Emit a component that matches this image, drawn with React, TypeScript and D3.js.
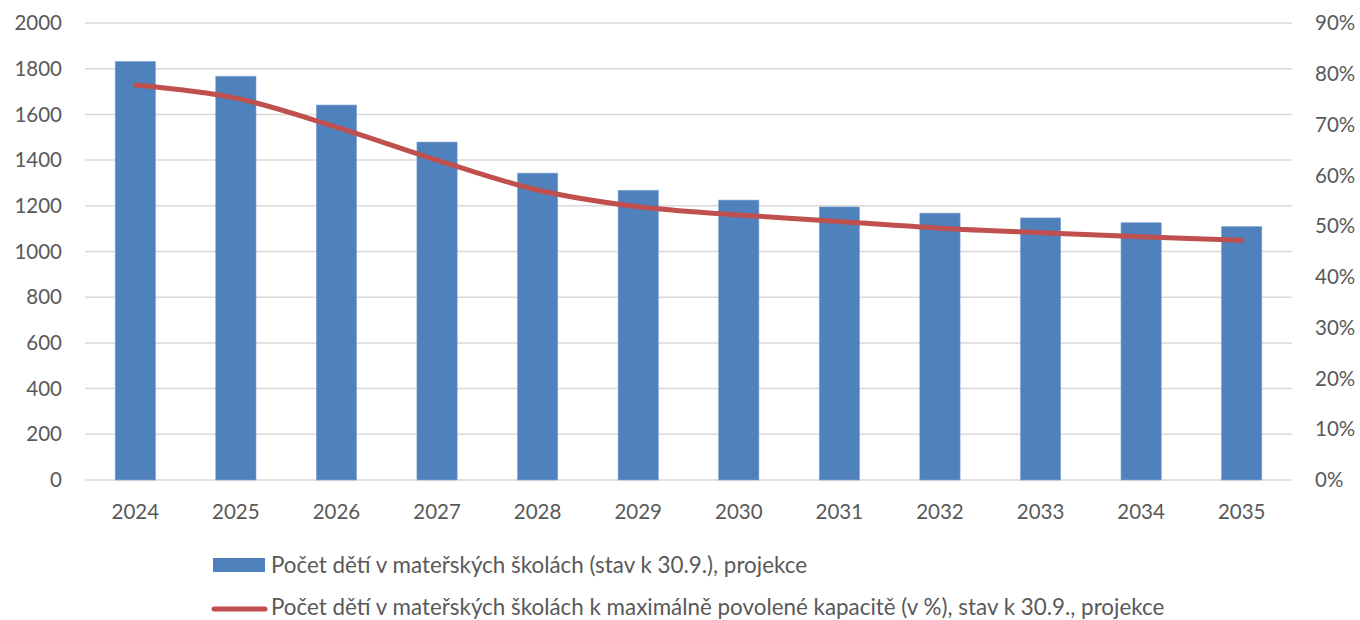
import React from "react";
import * as d3 from "d3";

const years = ["2024","2025","2026","2027","2028","2029","2030","2031","2032","2033","2034","2035"];
const children = [1832,1767,1641,1479,1343,1268,1225,1195,1168,1147,1126,1109];
const capacityPct = [77.8,75.2,69.5,63.0,57.1,53.8,52.2,50.9,49.6,48.7,47.9,47.2];
const leftTicks = [0,200,400,600,800,1000,1200,1400,1600,1800,2000];
const rightTicks = [0,10,20,30,40,50,60,70,80,90];
const legendBar = "Počet dětí v mateřských školách (stav k 30.9.), projekce";
const legendLine = "Počet dětí v mateřských školách k maximálně povolené kapacitě (v %), stav k 30.9., projekce";

const W = 1360, H = 620;
const left = 85, right = 1292, top = 23, bottom = 480;
const font = "Lato, 'Open Sans', sans-serif";
const textColor = "#595959";
const axisSize = 20.5;
const legendSize = 22.4;

export default function App() {
  const x = d3.scaleBand<string>().domain(years).range([left, right]).paddingInner(0.6).paddingOuter(0.3);
  const yL = d3.scaleLinear().domain([0, 2000]).range([bottom, top]);
  const yR = d3.scaleLinear().domain([0, 90]).range([bottom, top]);
  const line = d3.line<number>()
    .x((_, i) => (x(years[i]) as number) + x.bandwidth() / 2)
    .y(d => yR(d))
    .curve(d3.curveCatmullRom.alpha(0.5));
  return (
    <svg width={W} height={H} style={{ position: "absolute", left: 0, top: 0, background: "#fff" }}>
      {leftTicks.map(t => (
        <g key={t}>
          <line x1={left} x2={right} y1={yL(t)} y2={yL(t)} stroke="#d9d9d9" strokeWidth={1.5} />
          <text x={62} y={yL(t)} dy="0.35em" textAnchor="end" fontFamily={font} fontSize={axisSize} fill={textColor}>{t}</text>
        </g>
      ))}
      {rightTicks.map(t => (
        <text key={t} x={1315} y={yR(t)} dy="0.35em" textAnchor="start" fontFamily={font} fontSize={axisSize} fill={textColor}>{t}%</text>
      ))}
      {children.map((v, i) => (
        <rect key={years[i]} x={x(years[i])} y={yL(v)} width={x.bandwidth()} height={yL(0) - yL(v)} fill="#4f81bd" stroke="#7fa3d1" strokeWidth={0.6} />
      ))}
      <path d={line(capacityPct) || ""} fill="none" stroke="#c0504d" strokeWidth={5} strokeLinecap="round" />
      {years.map(yv => (
        <text key={yv} x={(x(yv) as number) + x.bandwidth() / 2} y={512} dy="0.35em" textAnchor="middle" fontFamily={font} fontSize={axisSize} fill={textColor}>{yv}</text>
      ))}
      <rect x={213} y={558} width={52} height={14} fill="#4f81bd" />
      <text x={271} y={573} fontFamily={font} fontSize={legendSize} fill={textColor}>{legendBar}</text>
      <line x1={214} x2={265} y1={609} y2={609} stroke="#c0504d" strokeWidth={5} strokeLinecap="round" />
      <text x={271} y={615} fontFamily={font} fontSize={legendSize} fill={textColor}>{legendLine}</text>
    </svg>
  );
}
